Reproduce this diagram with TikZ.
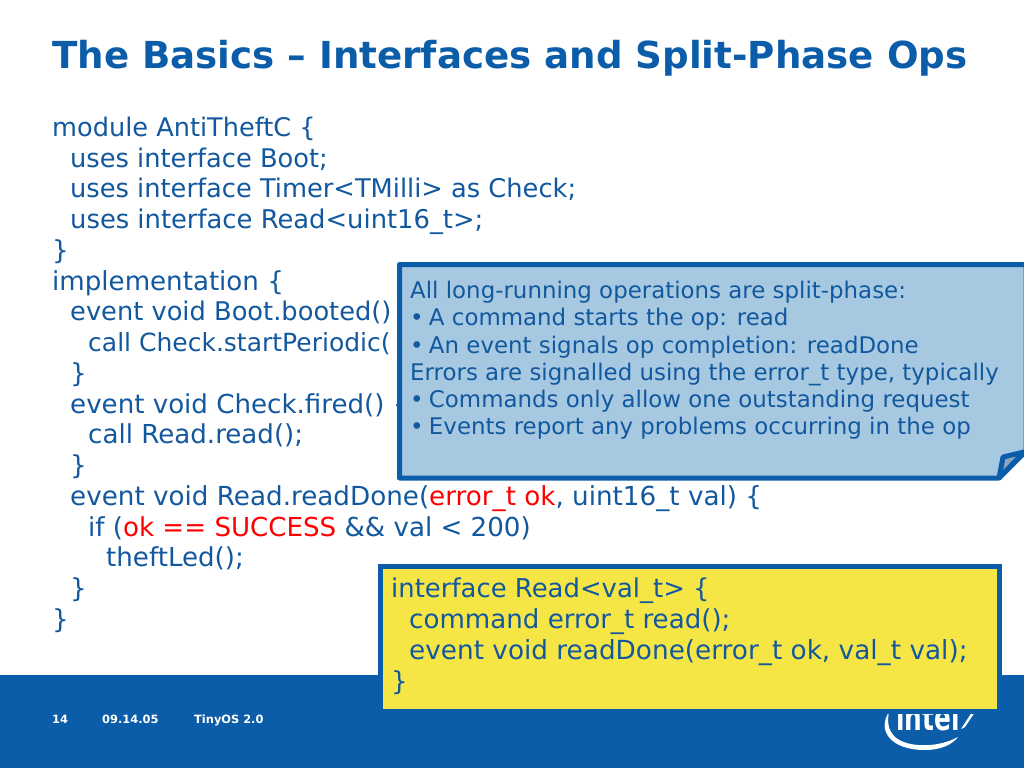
\documentclass[tikz,border=0pt]{standalone}
\usepackage{fontspec}
\setmainfont{DejaVu Sans}
\usetikzlibrary{positioning}
\definecolor{intelblue}{HTML}{0B5DA9}
\definecolor{notefill}{HTML}{A6C8E0}
\definecolor{notefold}{HTML}{8FA3BC}
\definecolor{codeyellow}{HTML}{F6E645}
\definecolor{codeink}{HTML}{12589F}
\newcommand{\ind}[1]{\hspace*{#1pt}}
\newcommand{\redtxt}[1]{\textcolor{red}{#1}}
\newcommand{\sized}[2]{{\fontsize{#1}{30.75}\selectfont #2}}
\newcommand{\bul}{•\kern-2pt\ }
\tikzset{
  codetext/.style={inner sep=0pt,align=left,text=codeink,font=\fontsize{26.1}{30.75}\selectfont},
  notetext/.style={inner sep=0pt,align=left,text=codeink,font=\fontsize{22.9}{27.2}\selectfont},
  foottext/.style={inner sep=0pt,anchor=base west,text=white,font=\fontsize{11.4}{13}\selectfont\bfseries},
}
\begin{document}
\begin{tikzpicture}[x=1pt,y=-1pt]
	\useasboundingbox (0,0) rectangle (1024,768);
	\clip (0,0) rectangle (1024,768);
	\fill[white] (0,0) rectangle (1024,768);

	% title and code
	\node (title)[inner sep=0pt,anchor=base west,text=intelblue,font=\fontsize{37.2}{42}\selectfont\bfseries] at (52,68) {The Basics – Interfaces and Split-Phase Ops};
	\node (code)[codetext,anchor=north west] at (52,116.7) {\sized{25.6}{module AntiTheftC \{}\\
	\ind{18}\sized{25.7}{uses interface Boot;}\\
	\ind{18}\sized{25.7}{uses interface Timer<TMilli> as Check;}\\
	\ind{18}\sized{25.8}{uses interface Read<uint16\_t>;}\\
	\}\\
	implementation \{\\
	\ind{18}\sized{25.7}{event void Boot.booted()}\\
	\ind{36}\sized{25}{call Check.startPeriodic(}\\
	\ind{18}\}\\
	\ind{18}event void Check.fired() \{\\
	\ind{36}call Read.read();\\
	\ind{18}\}\\
	\ind{18}\sized{26.2}{event void Read.readDone(\redtxt{error\_t ok}, uint16\_t val) \{}\\
	\ind{36}if (\redtxt{ok == SUCCESS} \&\& val < 200)\\
	\ind{54}theftLed();\\
	\ind{18}\}\\
	\}};

	% footer band
	\fill[intelblue] (0,675) rectangle (1024,768);
	\node (pagenr)[foottext] at (52,723) {14};
	\node (date)[foottext] at (102,723) {09.14.05};
	\node (event)[foottext] at (194,723) {TinyOS 2.0};

	% logo, the box below covers its top
	\node (logo)[inner sep=0pt,anchor=base,text=white,transform shape,xscale=.69,font=\fontsize{36}{40}\selectfont\bfseries] at (928,730) {intel};
	\fill[white] (889,712) .. controls (877,730) and (890,750) .. (925,750) .. controls (940,750) and (952,745) .. (958,737) .. controls (945,744) and (930,746) .. (918,745) .. controls (895,743) and (885,732) .. (889,712) -- cycle;
	\fill[white] (972,712) -- (975,712) -- (965,727) -- (961,729) -- cycle;

	% yellow box
	\node (readbox)[draw=intelblue,line width=5pt,fill=codeyellow,minimum width=619pt,minimum height=145pt,anchor=north west] at (378,564) {};
	\node (readcode)[codetext,anchor=north west] at (391,578) {\sized{25.9}{interface Read<val\_t> \{}\\
	\ind{18}command error\_t read();\\
	\ind{18}\sized{26.3}{event void readDone(error\_t ok, val\_t val);}\\
	\}};

	% note with folded corner
	\draw[line width=5pt,draw=intelblue,fill=notefill,line join=round] (399.5,264.5) -- (1026,264.5) -- (1026,451) -- (999,478) -- (399.5,478) -- cycle;
	\draw[line width=5pt,draw=intelblue,fill=notefold,line join=round] (1024,452) -- (1003,457) -- (999,478) -- cycle;
	\node (notetxt)[notetext,anchor=north west] at (410,281) {All long-running operations are split-phase:\\
	\bul A command starts the op: read\\
	\bul An event signals op completion: readDone\\
	Errors are signalled using the error\_t type, typically\\
	\bul Commands only allow one outstanding request\\
	\bul Events report any problems occurring in the op};
\end{tikzpicture}
\end{document}
